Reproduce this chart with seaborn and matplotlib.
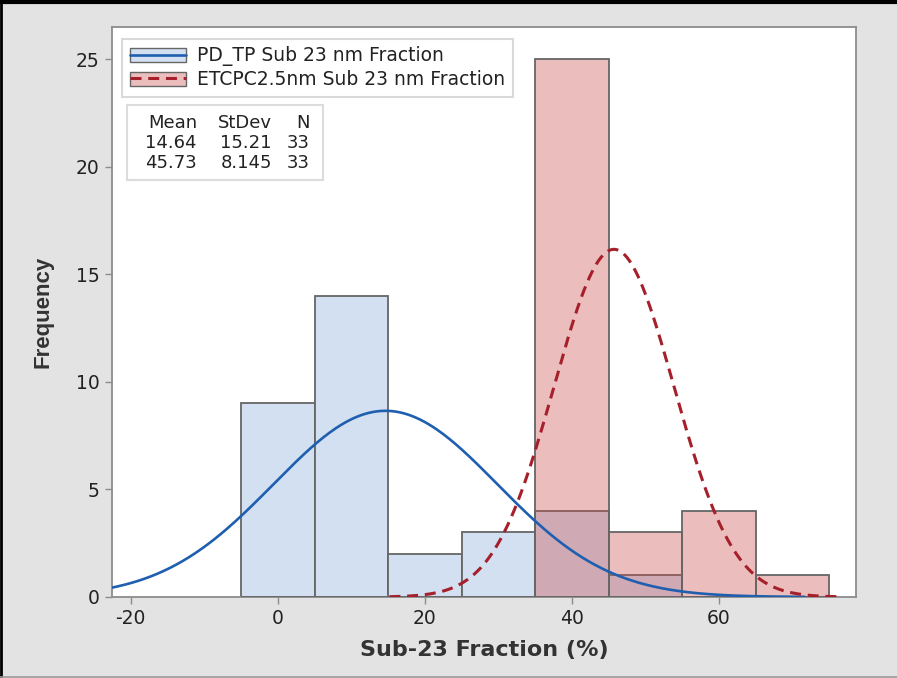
import numpy as np
import pandas as pd
import seaborn as sns
import matplotlib
matplotlib.use("Agg")
import matplotlib.pyplot as plt
from matplotlib.patches import Patch, Rectangle
from matplotlib.lines import Line2D

# Binned frequencies (bins 10 wide, centred on multiples of 10)
bin_centers = [0, 10, 20, 30, 40, 50, 60, 70]
pd_tp_counts = [9, 14, 2, 3, 4, 1, 0, 0]
etcpc_counts = [0, 0, 0, 0, 25, 3, 4, 1]
bin_width = 10

# Summary statistics of each sample
series_names = ["PD_TP Sub 23 nm Fraction", "ETCPC2.5nm Sub 23 nm Fraction"]
means = [14.64, 45.73]
stdevs = [15.21, 8.145]
counts_n = [33, 33]
mean_labels = ["14.64", "45.73"]
stdev_labels = ["15.21", "8.145"]

x_ticks = [-20, 0, 20, 40, 60]
y_ticks = [0, 5, 10, 15, 20, 25]

sns.set_theme(style="white")
plt.rcParams["font.family"] = ["DejaVu Sans"]
plt.rcParams["axes.unicode_minus"] = False

BG = "#e3e3e3"
BLUE_FACE = "#d3e0f1"
RED_FACE = (201 / 255, 77 / 255, 77 / 255, 0.37)
BAR_EDGE = "#666666"
BLUE_LINE = "#1f5fb0"
RED_LINE = "#a5202a"
TEXT = "#222222"
RED_DASH = (0, (3.6, 2.2))

fig = plt.figure(figsize=(8.97, 6.78), dpi=100, facecolor=BG)
ax = fig.add_axes([112 / 897, 1 - 597 / 678, 744 / 897, 570 / 678])
ax.set_facecolor("white")

edges = [c - bin_width / 2 for c in bin_centers] + [bin_centers[-1] + bin_width / 2]
hist_df = pd.DataFrame({"center": bin_centers, "pd": pd_tp_counts, "et": etcpc_counts})

sns.histplot(data=hist_df, x="center", weights="pd", bins=edges, ax=ax,
             stat="count", element="bars", color=BLUE_FACE, alpha=1,
             edgecolor=BAR_EDGE, linewidth=1.3, zorder=2)
n_blue = len(ax.patches)
sns.histplot(data=hist_df, x="center", weights="et", bins=edges, ax=ax,
             stat="count", element="bars", color="#c94d4d",
             edgecolor=BAR_EDGE, linewidth=1.3, zorder=3)
for p in ax.patches[:n_blue]:
    p.set_alpha(None)
    p.set_facecolor(BLUE_FACE)
    p.set_edgecolor(BAR_EDGE)
for p in ax.patches[n_blue:]:
    p.set_alpha(None)
    p.set_facecolor(RED_FACE)
    p.set_edgecolor(BAR_EDGE)
    p.set_zorder(3)

# Fitted normal curves scaled to counts per bin
def normal_curve(mu, sd, n):
    xs = np.linspace(mu - 3.75 * sd, mu + 3.75 * sd, 400)
    ys = n * bin_width * np.exp(-0.5 * ((xs - mu) / sd) ** 2) / (sd * np.sqrt(2 * np.pi))
    return pd.DataFrame({"x": xs, "y": ys})

c0 = normal_curve(means[0], stdevs[0], counts_n[0])
c1 = normal_curve(means[1], stdevs[1], counts_n[1])
sns.lineplot(data=c0, x="x", y="y", ax=ax, color=BLUE_LINE, linewidth=1.9, zorder=4)
sns.lineplot(data=c1, x="x", y="y", ax=ax, color=RED_LINE, linewidth=2.2,
             linestyle=RED_DASH, zorder=5)

ax.set_xlim(-22.55, 78.65)
ax.set_ylim(0, 26.5)
ax.set_xticks(x_ticks)
ax.set_yticks(y_ticks)
ax.tick_params(axis="both", which="both", length=5, width=1, color="#8c8c8c",
               labelsize=13.5, labelcolor=TEXT, pad=4, bottom=True, left=True)
for s in ax.spines.values():
    s.set_color("#8c8c8c")
    s.set_linewidth(1.3)

ax.set_xlabel("Sub-23 Fraction (%)", fontsize=16, fontweight="bold", color="#333333", labelpad=8)
ax.set_ylabel("Frequency", fontsize=16, fontweight="bold", color="#333333",
              family=["Liberation Sans Narrow", "Liberation Sans", "DejaVu Sans"], labelpad=16)

# Legend: filled swatch with the curve's line style drawn across it
h0 = (Patch(facecolor=BLUE_FACE, edgecolor=BAR_EDGE, linewidth=1),
      Line2D([], [], color=BLUE_LINE, linewidth=1.9))
h1 = (Patch(facecolor=RED_FACE, edgecolor=BAR_EDGE, linewidth=1),
      Line2D([], [], color=RED_LINE, linewidth=2.2, linestyle=RED_DASH))
leg = ax.legend([h0, h1], series_names, loc="upper left",
                bbox_to_anchor=(10 / 744, 1 - 12 / 570), borderaxespad=0,
                fontsize=13.5, frameon=True, fancybox=False, framealpha=1,
                handlelength=3.0, handleheight=0.8, handletextpad=0.6,
                labelspacing=0.2, borderpad=0.4, labelcolor=TEXT)
leg.get_frame().set_edgecolor("#d9d9d9")
leg.get_frame().set_linewidth(1.5)
leg.set_zorder(10)

# Summary statistics table
ax.add_patch(Rectangle((15 / 744, (597 - 180) / 570), 196 / 744, 75 / 570,
                       transform=ax.transAxes, facecolor="white",
                       edgecolor="#dcdcdc", linewidth=1.5, zorder=9))
col_x = [0.1142, 0.215, 0.266]
row_y = [0.832, 0.797, 0.761]
header = ["Mean", "StDev", "N"]
rows = [header] + [[mean_labels[i], stdev_labels[i], str(counts_n[i])] for i in range(2)]
for r, row in enumerate(rows):
    for c, txt in enumerate(row):
        ax.text(col_x[c], row_y[r], txt, transform=ax.transAxes, ha="right",
                va="center", fontsize=13, color=TEXT, zorder=11)

# Outer frame edges
fig.add_artist(Line2D([0, 1], [1 - 1.5 / 678, 1 - 1.5 / 678], transform=fig.transFigure,
                      color="black", linewidth=3))
fig.add_artist(Line2D([1 / 897, 1 / 897], [0, 1], transform=fig.transFigure,
                      color="black", linewidth=2))
fig.add_artist(Line2D([0, 1], [0.8 / 678, 0.8 / 678], transform=fig.transFigure,
                      color="#9a9a9a", linewidth=1.2))

fig.savefig("out.png", dpi=100, facecolor=BG)
